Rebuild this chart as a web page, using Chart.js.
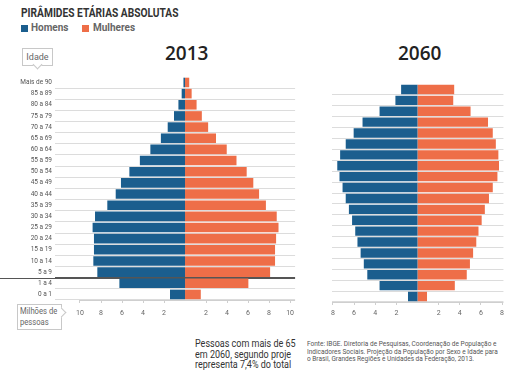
<!DOCTYPE html>
<html>
<head>
<meta charset="utf-8">
<script src="https://cdn.jsdelivr.net/npm/chart.js@4/dist/chart.umd.min.js"></script>
<style>
  html, body { margin:0; padding:0; background:#fff; }
  body { width:505px; height:378px; overflow:hidden; position:relative; font-family:Roboto,sans-serif; }
  .abs { position:absolute; }
  #title { left:21px; top:6px; font-size:12px; font-weight:bold; color:#333; white-space:nowrap;
           transform:scaleX(0.85); transform-origin:0 0; }
  .sw { width:7px; height:7px; }
  .lg { font-size:10px; font-weight:bold; color:#666; white-space:nowrap; }
  .year { font-family:'Open Sans',sans-serif; font-weight:600; font-size:19px; color:#222; }
  #idade { left:22px; top:48px; width:29px; height:16px; border:1px solid #c8c8c8; background:#fff;
           font-size:9px; color:#666; text-align:center; line-height:16px; }
  #idade:after { content:''; position:absolute; left:11px; top:12px; width:6px; height:6px;
           background:#fff; border-right:1px solid #c8c8c8; border-bottom:1px solid #c8c8c8; transform:rotate(45deg); }
  #milhoes { left:17px; top:304px; width:45px; height:26px; border:1px solid #c8c8c8; background:#fff;
           color:#666; box-sizing:border-box; }
  #milhoes .in { position:absolute; left:2px; top:1px; font-size:9px; line-height:11px; white-space:nowrap;
           transform:scaleX(0.85); transform-origin:0 0; }
  #milhoes:after { content:''; position:absolute; left:40px; top:4px; width:6px; height:6px;
           background:#fff; border-right:1px solid #c8c8c8; border-top:1px solid #c8c8c8; transform:rotate(45deg); }
  #note { left:195px; top:339px; width:102px; height:33px; overflow:hidden; color:#333; }
  #note .in { white-space:nowrap; font-size:10px; line-height:10.5px; transform:scaleX(0.9); transform-origin:0 0; }
  #src { left:307px; top:341px; width:200px; overflow:hidden; white-space:nowrap; font-size:6.5px; line-height:7.5px; color:#555; }
</style>
</head>
<body>
<div id="title" class="abs">PIRÂMIDES ETÁRIAS ABSOLUTAS</div>
<div class="abs sw" style="left:21px;top:25px;background:#1b5e8e"></div>
<div class="abs lg" style="left:31px;top:22px">Homens</div>
<div class="abs sw" style="left:82px;top:25px;background:#ee6e48"></div>
<div class="abs lg" style="left:93px;top:22px">Mulheres</div>
<div id="idade" class="abs">Idade</div>
<div class="abs year" style="left:165px;top:40px">2013</div>
<div class="abs year" style="left:398px;top:40px">2060</div>
<div id="milhoes" class="abs"><div class="in">Milhões de<br>pessoas</div></div>
<div id="note" class="abs"><div class="in">Pessoas com mais de 65<br>em 2060, segundo proje<br>representa 7,4% do total</div></div>
<div id="src" class="abs">Fonte: IBGE. Diretoria de Pesquisas, Coordenação de População e<br>Indicadores Sociais. Projeção da População por Sexo e Idade para<br>o Brasil, Grandes Regiões e Unidades da Federação, 2013.</div>

<canvas id="c1" class="abs" width="300" height="252" style="left:0px;top:70px"></canvas>
<canvas id="c2" class="abs" width="181" height="245" style="left:327px;top:79px"></canvas>

<script>
const categories = ["Mais de 90","85 a 89","80 a 84","75 a 79","70 a 74","65 a 69","60 a 64","55 a 59","50 a 54","45 a 49","40 a 44","35 a 39","30 a 34","25 a 29","20 a 24","15 a 19","10 a 14","5 a 9","1 a 4","0 a 1"];
const men2013   = [0.15,0.32,0.63,1.05,1.65,2.3,3.3,4.3,5.3,6.1,6.6,7.4,8.57,8.8,8.67,8.67,8.73,8.35,6.25,1.43];
const women2013 = [0.4,0.63,1.1,1.6,2.2,2.95,3.97,4.9,5.87,6.5,7.05,7.7,8.73,8.9,8.67,8.57,8.57,8.1,6.03,1.5];
const men2060   = [1.55,2.09,3.59,5.2,6.04,6.79,7.32,7.59,7.38,7.09,6.79,6.49,6.19,5.89,5.68,5.38,5.08,4.75,3.59,0.9];
const women2060 = [3.47,3.38,5.02,6.67,7.12,7.41,7.65,7.71,7.56,7.12,6.76,6.37,6.07,5.77,5.56,5.26,4.96,4.66,3.53,0.9];
const ticks2013 = [-10,-8,-6,-4,-2,2,4,6,8,10];
const ticks2060 = [-8,-6,-4,-2,2,4,6,8];

const FONT = "Roboto, sans-serif";
const BLUE = '#1b5e8e', ORANGE = '#ee6e48';

function extras(tickVals, darkLine) {
  return {
    id: 'extras',
    beforeDatasetsDraw(chart) {
      const ctx = chart.ctx, a = chart.chartArea, x = chart.scales.x, y = chart.scales.y;
      ctx.save();
      if (darkLine) {
        const yy = Math.round((y.getPixelForValue(17) + y.getPixelForValue(18)) / 2) + 0.5;
        ctx.strokeStyle = '#555'; ctx.lineWidth = 1;
        ctx.beginPath(); ctx.moveTo(0, yy); ctx.lineTo(a.right, yy); ctx.stroke();
      }
      const by = Math.round(a.bottom) + 0.5;
      ctx.strokeStyle = '#cfcfcf'; ctx.lineWidth = 1;
      ctx.beginPath(); ctx.moveTo(x.getPixelForValue(tickVals[0]), by); ctx.lineTo(a.right, by); ctx.stroke();
      ctx.restore();
    }
  };
}

function makeChart(id, men, women, min, max, tickVals, showY, darkLine, padTop, tickPad) {
  return new Chart(document.getElementById(id), {
    type: 'bar',
    data: {
      labels: categories,
      datasets: [
        { label: 'Homens', data: men.map(v => -v), backgroundColor: BLUE, barPercentage: 0.86, categoryPercentage: 1 },
        { label: 'Mulheres', data: women, backgroundColor: ORANGE, barPercentage: 0.86, categoryPercentage: 1 }
      ]
    },
    options: {
      indexAxis: 'y',
      responsive: false,
      devicePixelRatio: 1,
      animation: false,
      layout: { padding: { top: padTop, right: 0, bottom: 0, left: 0 } },
      plugins: { legend: { display: false }, tooltip: { enabled: false } },
      scales: {
        x: {
          stacked: true, min: min, max: max,
          afterBuildTicks: s => { s.ticks = tickVals.map(v => ({ value: v })); },
          afterFit: s => { s.height = 22; },
          border: { display: false },
          grid: { display: true, drawOnChartArea: false, drawTicks: true, tickLength: 3, color: '#cfcfcf' },
          ticks: { padding: tickPad, color: '#666', font: { family: FONT, size: 7 }, maxRotation: 0, autoSkip: false,
                   callback: v => Math.abs(v) }
        },
        y: {
          stacked: true,
          display: true,
          afterFit: s => { s.width = showY ? 55 : 0; },
          border: { display: false },
          grid: { offset: true, drawTicks: false,
                  color: c => (c.index === 0) ? 'rgba(0,0,0,0)' : (darkLine && c.index === 18 ? '#555' : '#dcdcdc') },
          ticks: { display: showY, autoSkip: false, padding: 3, color: '#555', font: { family: FONT, size: 6.5 } }
        }
      }
    },
    plugins: [extras(tickVals, darkLine)]
  });
}

makeChart('c1', men2013, women2013, -12.38, 10.48, ticks2013, true, true, 5, 6);
makeChart('c2', men2060, women2060, -8.1, 8.13, ticks2060, false, false, 5, 4);
</script>
</body>
</html>
